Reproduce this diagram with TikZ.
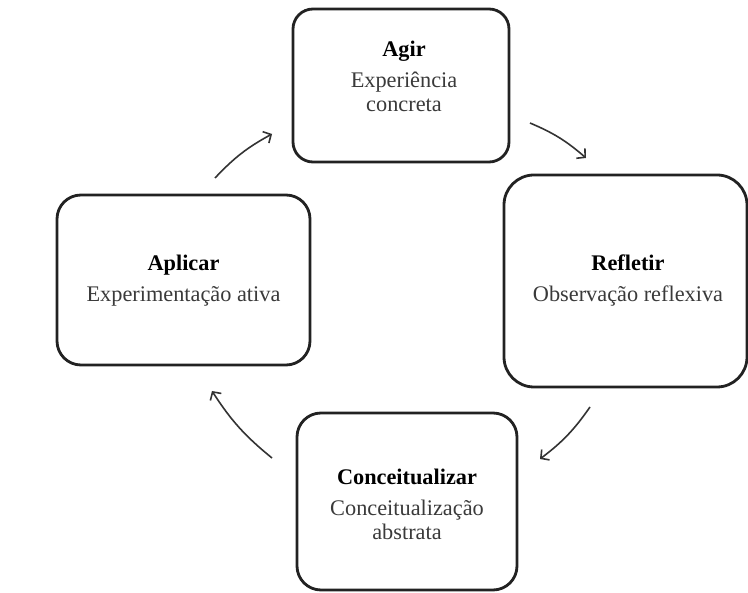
\documentclass[tikz,border=0pt]{standalone}
\usepackage{fontspec}
\setmainfont{Liberation Serif}
\usetikzlibrary{arrows.meta}
\definecolor{boxline}{HTML}{222222}
\definecolor{subtxt}{HTML}{3A3A3A}
\definecolor{arr}{HTML}{333333}
\begin{document}
\begin{tikzpicture}[x=1pt,y=-1pt,
  stagebox/.style={draw=boxline, line width=2.8pt, rounded corners=#1, inner sep=0pt},
  stagebox/.default=22pt,
  stagetext/.style={align=center, inner sep=0pt, font=\fontsize{22.3}{24}\selectfont, text=subtxt},
  cyc/.style={draw=arr, line width=1.6pt, -{Straight Barb[length=6pt,width=13pt,line width=1.6pt]}, bend left=9}
]
\fill[white] (0,0) rectangle (748,593);
\useasboundingbox (0,0) rectangle (748,593);

% boxes
\node[stagebox=20pt, minimum width=216pt, minimum height=153pt] (agir) at (401,85.5) {};
\node[stagebox=30pt, minimum width=243pt, minimum height=212pt] (refl) at (625.5,281) {};
\node[stagebox=24pt, minimum width=253pt, minimum height=170pt] (apli) at (183.5,280) {};
\node[stagebox=24pt, minimum width=220pt, minimum height=177pt] (conc) at (407,501.5) {};

% texts
\node[stagetext] (agirt) at (404,76) {\textbf{\color{black}Agir}\\[7pt]Experiência\\concreta};
\node[stagetext] (reflt) at (628,281) {\textbf{\color{black}Refletir}\\[7pt]Observação reflexiva};
\node[stagetext] (aplit) at (183.5,281) {\textbf{\color{black}Aplicar}\\[7pt]Experimentação ativa};
\node[stagetext] (conct) at (407,504) {\textbf{\color{black}Conceitualizar}\\[7pt]Conceitualização\\abstrata};

% arrow end points
\coordinate (a1s) at (215,178); \coordinate (a1e) at (272,134);
\coordinate (a2s) at (530,123); \coordinate (a2e) at (586,158);
\coordinate (a3s) at (590,407); \coordinate (a3e) at (540,459);
\coordinate (a4s) at (272,458); \coordinate (a4e) at (212,391);

\draw[cyc] (a1s) to (a1e);
\draw[cyc] (a2s) to (a2e);
\draw[cyc] (a3s) to (a3e);
\draw[cyc] (a4s) to (a4e);
\end{tikzpicture}
\end{document}
